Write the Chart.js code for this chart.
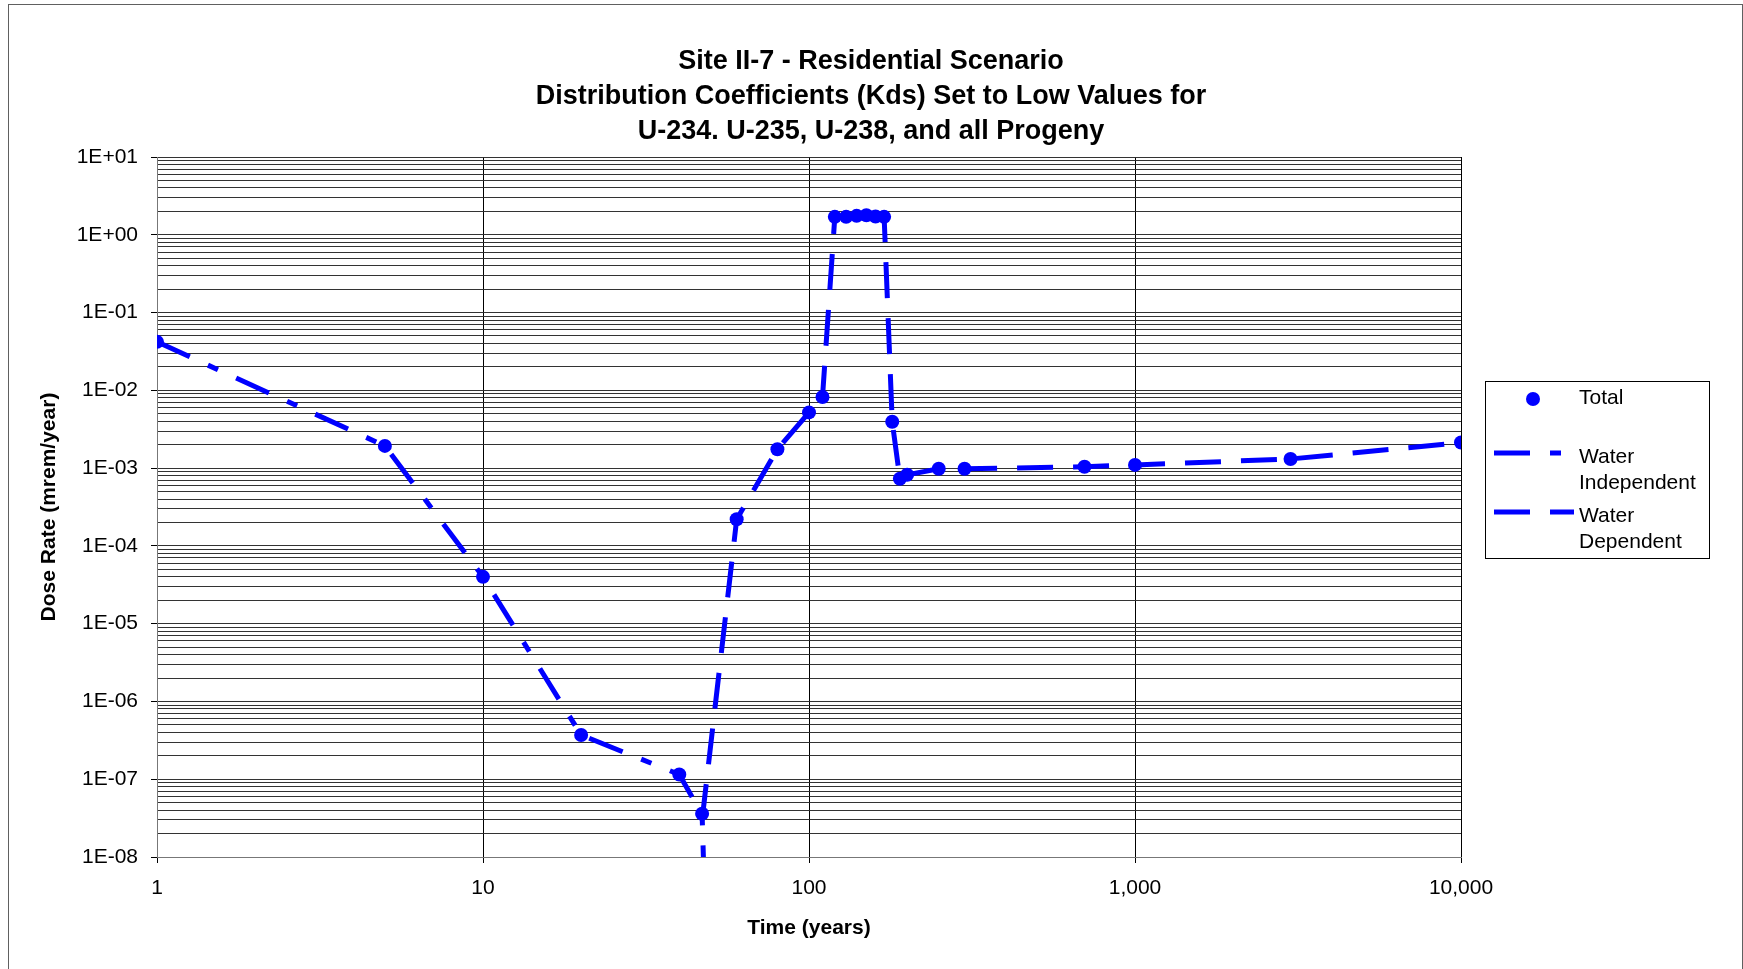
<!DOCTYPE html>
<html>
<head>
<meta charset="utf-8">
<script src="https://cdn.jsdelivr.net/npm/chart.js@4"></script>
<style>
  body { margin: 0; background: #fff; }
  canvas { display: block; }
</style>
</head>
<body>
<canvas id="doseChart" width="1743" height="969"></canvas>
<script>
// Time points (years)
const years = [1, 5, 10, 20, 40, 47, 60, 80, 100, 110, 120, 130, 140, 150, 160, 170, 180, 190, 200, 250, 300, 700, 1000, 3000, 10000];

// Total dose rate (mrem/year), drawn as markers only
const total = [4.2e-2, 1.93e-3, 4.0e-5, 3.7e-7, 1.15e-7, 3.6e-8, 2.2e-4, 1.75e-3, 5.2e-3, 8.2e-3,
               1.7, 1.7, 1.75, 1.78, 1.72, 1.7, 3.95e-3, 7.3e-4, 8.2e-4, 9.8e-4, 9.8e-4, 1.04e-3, 1.1e-3, 1.31e-3, 2.13e-3];

// Water independent pathways (drops off the chart after ~47 years)
const waterIndependent = [4.2e-2, 1.93e-3, 4.0e-5, 3.7e-7, 1.15e-7, 3.5e-8, 1e-22, null, null, null,
                          null, null, null, null, null, null, null, null, null, null, null, null, null, null, null];

// Water dependent pathways (starts around 47 years)
const waterDependent = [null, null, null, null, null, 3.0e-8, 2.2e-4, 1.75e-3, 5.2e-3, 8.2e-3,
                        1.7, 1.7, 1.75, 1.78, 1.72, 1.7, 3.95e-3, 7.3e-4, 8.2e-4, 9.8e-4, 9.8e-4, 1.04e-3, 1.1e-3, 1.31e-3, 2.13e-3];

const xTickValues = [1, 10, 100, 1000, 10000];
const yMinExp = -8;
const yMaxExp = 1;

const titleLines = [
    'Site II-7 - Residential Scenario',
    'Distribution Coefficients (Kds) Set to Low Values for',
    'U-234. U-235, U-238, and all Progeny'
];

const fontFamily = "'Liberation Sans', Arial, sans-serif";
Chart.defaults.font.family = fontFamily;
Chart.defaults.color = '#000';

const blue = '#0000ff';

function toPoints(vals) {
    return years.map((t, i) => ({ x: t, y: vals[i] }));
}

function isDecade(v) {
    const l = Math.log10(v);
    return Math.abs(l - Math.round(l)) < 1e-9;
}

function expLabel(v) {
    const e = Math.round(Math.log10(v));
    const s = String(Math.abs(e)).padStart(2, '0');
    return '1E' + (e >= 0 ? '+' : '-') + s;
}

// white background + outer frame
const framePlugin = {
    id: 'frame',
    beforeDraw(chart) {
        const c = chart.ctx;
        c.save();
        c.fillStyle = '#fff';
        c.fillRect(0, 0, chart.width, chart.height);
        c.restore();
    },
    afterDraw(chart) {
        const c = chart.ctx;
        c.save();
        c.strokeStyle = '#606060';
        c.lineWidth = 1;
        c.strokeRect(8.5, 4.5, 1734, 1000);
        c.restore();
    }
};

// three line bold title, centred on the whole picture
const titlePlugin = {
    id: 'bigTitle',
    afterDraw(chart) {
        const c = chart.ctx;
        c.save();
        c.font = 'bold 27px ' + fontFamily;
        c.fillStyle = '#000';
        c.textAlign = 'center';
        c.textBaseline = 'middle';
        const ys = [62, 97, 132];
        titleLines.forEach((t, i) => c.fillText(t, 871, ys[i]));
        c.restore();
    }
};

// boxed legend on the right
const legendPlugin = {
    id: 'sideLegend',
    afterDraw(chart) {
        const c = chart.ctx;
        const ds = chart.data.datasets;
        c.save();
        c.strokeStyle = '#000';
        c.lineWidth = 1;
        c.strokeRect(1485.5, 381.5, 224, 177);

        c.fillStyle = ds[0].pointBackgroundColor;
        c.beginPath();
        c.arc(1533, 399, 7, 0, Math.PI * 2);
        c.fill();

        c.lineWidth = ds[1].borderWidth;
        c.strokeStyle = ds[1].borderColor;
        c.setLineDash(ds[1].borderDash);
        c.beginPath();
        c.moveTo(1494, 453);
        c.lineTo(1561, 453);
        c.stroke();

        c.strokeStyle = ds[2].borderColor;
        c.setLineDash(ds[2].borderDash);
        c.beginPath();
        c.moveTo(1494, 512);
        c.lineTo(1574, 512);
        c.stroke();

        c.setLineDash([]);
        c.fillStyle = '#000';
        c.font = '21px ' + fontFamily;
        c.textAlign = 'left';
        c.textBaseline = 'middle';
        c.fillText('Total', 1579, 398);
        c.fillText('Water', 1579, 457);
        c.fillText('Independent', 1579, 483);
        c.fillText('Water', 1579, 516);
        c.fillText('Dependent', 1579, 542);
        c.restore();
    }
};

const ctx = document.getElementById('doseChart').getContext('2d');
new Chart(ctx, {
    type: 'line',
    data: {
        datasets: [
            {
                label: 'Total',
                data: toPoints(total),
                showLine: false,
                pointRadius: 7,
                pointBackgroundColor: blue,
                pointBorderColor: blue,
                pointBorderWidth: 0
            },
            {
                label: 'Water Independent',
                data: toPoints(waterIndependent),
                borderColor: blue,
                borderWidth: 5,
                borderDash: [36, 20, 11, 20],
                pointRadius: 0,
                fill: false,
                tension: 0
            },
            {
                label: 'Water Dependent',
                data: toPoints(waterDependent),
                borderColor: blue,
                borderWidth: 5,
                borderDash: [36, 20],
                pointRadius: 0,
                fill: false,
                tension: 0
            }
        ]
    },
    options: {
        responsive: false,
        animation: false,
        layout: { padding: { top: 157, right: 282, bottom: 0, left: 0 } },
        plugins: {
            legend: { display: false },
            tooltip: { enabled: false },
            title: { display: false }
        },
        scales: {
            x: {
                type: 'logarithmic',
                min: 1,
                max: 10000,
                afterBuildTicks: s => { s.ticks = xTickValues.map(v => ({ value: v })); },
                afterFit: s => { s.height = 112; },
                ticks: {
                    autoSkip: false,
                    maxRotation: 0,
                    padding: 13,
                    font: { size: 21 },
                    callback: v => Number(v).toLocaleString('en-US')
                },
                grid: { color: '#000', tickLength: 6, tickColor: '#000' },
                border: { color: '#777' },
                title: {
                    display: true,
                    text: 'Time (years)',
                    font: { size: 21, weight: 'bold' },
                    padding: { top: 0, bottom: 28 }
                }
            },
            y: {
                type: 'logarithmic',
                min: Math.pow(10, yMinExp),
                max: Math.pow(10, yMaxExp),
                afterBuildTicks: s => {
                    const t = [];
                    for (let e = yMinExp; e <= yMaxExp; e++) {
                        for (let k = 1; k <= 9; k++) {
                            if (e === yMaxExp && k > 1) break;
                            t.push({ value: k * Math.pow(10, e) });
                        }
                    }
                    s.ticks = t;
                },
                afterFit: s => { s.width = 157; },
                ticks: {
                    autoSkip: false,
                    padding: 13,
                    font: { size: 21 },
                    callback: v => isDecade(v) ? expLabel(v) : ''
                },
                grid: {
                    color: '#333',
                    tickLength: 6,
                    tickColor: c => (c.tick && isDecade(c.tick.value)) ? '#000' : 'rgba(0,0,0,0)'
                },
                border: { color: '#777' },
                title: {
                    display: true,
                    text: 'Dose Rate (mrem/year)',
                    font: { size: 21, weight: 'bold' },
                    padding: { top: 37, bottom: 0 }
                }
            }
        }
    },
    plugins: [framePlugin, titlePlugin, legendPlugin]
});
</script>
</body>
</html>
